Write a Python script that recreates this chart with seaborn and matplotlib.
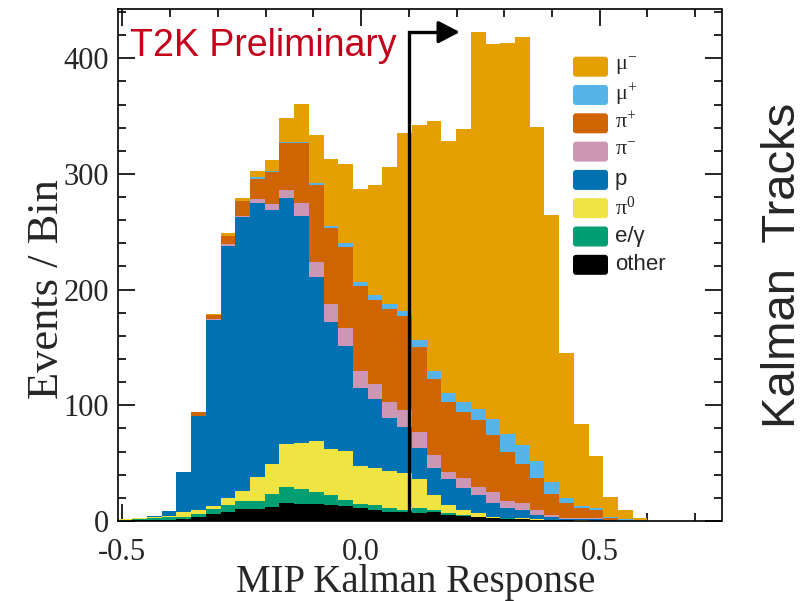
import numpy as np
import pandas as pd
import matplotlib
matplotlib.use("Agg")
import matplotlib.pyplot as plt
import seaborn as sns
from matplotlib.patches import FancyBboxPatch
from matplotlib.transforms import IdentityTransform
from matplotlib.ticker import MultipleLocator, FormatStrFormatter

# 36 equal-width bins of the MIP Kalman response
bin_edges = np.linspace(-0.51, 0.60, 37)
bin_centers = 0.5 * (bin_edges[:-1] + bin_edges[1:])

# Events per bin for each true particle type
mu_minus = [0, 0, 0, 0, 0, 0.3, 1.0, 2.3, 2.9, 5.8, 9.2, 20.7, 32.5, 41.7, 57.6, 68.6,
            80.1, 94.8, 118.6, 153.6, 185.6, 215.8, 217.8, 235.4, 326.1, 324.1, 337.6,
            352.3, 288.2, 230.5, 125.9, 70.8, 45.0, 17.3, 7.8, 1.7]
mu_plus = [0, 0, 0, 0, 0, 0, 0, 0, 0, 1.1, 0.9, 0.3, 0.9, 1.4, 2.3, 2.9,
           3.5, 4.3, 4.6, 4.3, 5.7, 6.9, 7.3, 9.2, 9.5, 13.6, 15.8,
           16.7, 14.7, 10.7, 4.3, 2.0, 1.5, 1.4, 1.3, 0.3]
pi_plus = [0, 0, 0, 0, 0, 3.0, 3.8, 7.2, 12.9, 17.5, 27.3, 40.5, 51.9, 66.2, 65.7, 70.6,
           73.5, 72.9, 79.9, 81.3, 74.0, 65.7, 60.5, 57.0, 57.7, 49.0, 41.8,
           33.7, 27.9, 18.1, 12.3, 8.7, 7.2, 1.6, 0.2, 0.3]
pi_minus = [0, 0, 0, 0, 0.6, 0.3, 0.5, 1.1, 1.1, 3.3, 5.8, 6.9, 11.5, 13.5, 15.0, 15.0,
            14.9, 12.7, 13.8, 14.4, 13.9, 11.5, 6.6, 8.6, 7.1, 9.5, 6.1,
            5.8, 4.3, 2.0, 1.0, 0.5, 0.8, 0.2, 0, 0]
proton = [0, 0, 1.4, 4.0, 34.5, 81.2, 160.7, 218.4, 236.6, 236.8, 219.5, 213.3, 196.5, 141.4, 110.1, 91.0,
          67.2, 59.3, 46.1, 39.8, 26.3, 23.0, 22.0, 18.8, 15.9, 12.1, 8.7,
          7.3, 3.7, 2.0, 1.2, 1.3, 1.2, 0.4, 0.2, 0]
pi_zero = [0.8, 1.0, 0.7, 1.4, 3.8, 3.5, 2.6, 5.8, 8.4, 21.0, 26.0, 37.2, 39.4, 44.6, 39.7, 42.3,
           32.8, 32.3, 32.2, 32.2, 25.5, 13.0, 7.0, 4.3, 2.8, 0.9, 0.6,
           0.5, 0.3, 0.2, 0.2, 0.1, 0, 0, 0, 0]
e_gamma = [0.9, 1.5, 1.5, 2.0, 1.7, 2.8, 4.4, 5.8, 7.5, 6.9, 11.2, 13.8, 13.0, 10.4, 8.7, 5.2,
           3.7, 4.3, 3.0, 2.0, 4.4, 2.0, 1.5, 0.9, 0.3, 0.3, 0.2,
           0.2, 0.2, 0.2, 0.1, 0.1, 0.1, 0, 0, 0]
other = [0.3, 0.5, 1.0, 1.2, 2.0, 3.2, 6.0, 8.0, 10.0, 10.4, 11.8, 15.3, 14.7, 14.4, 13.8, 13.0,
         11.0, 9.5, 8.0, 7.5, 6.6, 7.5, 5.5, 4.3, 3.5, 2.5, 2.0,
         1.5, 1.0, 0.8, 0.5, 0.3, 0.2, 0.1, 0, 0]

# Stack order: first entry on top, last entry at the bottom
species = ["mu-", "mu+", "pi+", "pi-", "p", "pi0", "e/gamma", "other"]
counts = [mu_minus, mu_plus, pi_plus, pi_minus, proton, pi_zero, e_gamma, other]
labels = [r"$\mathregular{μ^{-}}$", r"$\mathregular{μ^{+}}$", r"$\mathregular{π^{+}}$",
          r"$\mathregular{π^{-}}$", "p", r"$\mathregular{π^{0}}$", "e/γ", "other"]
label_fonts = ["Liberation Serif"] * 4 + ["Liberation Sans", "Liberation Serif",
                                          "Liberation Sans", "Liberation Sans"]
colors = ["#E69F00", "#56B4E9", "#CF6400", "#CC97B5", "#0072B2", "#F0E442",
          "#009E73", "#000000"]

df = pd.DataFrame({
    "response": np.tile(bin_centers, len(species)),
    "events": np.concatenate(counts),
    "particle": np.repeat(species, len(bin_centers)),
})

sns.set_style("ticks")
plt.rcParams["font.family"] = ["Liberation Sans", "DejaVu Sans"]
plt.rcParams["mathtext.fontset"] = "stix"
plt.rcParams["axes.unicode_minus"] = False

W, H = 810, 601
fig = plt.figure(figsize=(W / 100, H / 100), dpi=100)
ax = fig.add_axes([117.5 / W, 80 / H, (721.5 - 117.5) / W, (592.5 - 80) / H])

sns.histplot(data=df, x="response", weights="events", hue="particle",
             hue_order=species, palette=dict(zip(species, colors)),
             multiple="stack", bins=bin_edges.tolist(), element="step", alpha=1,
             linewidth=0, legend=False, ax=ax)

ax.set_xlim(-0.51, 0.755)
ax.set_ylim(0, 443)
ax.set_xlabel("")
ax.set_ylabel("")

ax.xaxis.set_major_locator(MultipleLocator(0.5))
ax.xaxis.set_minor_locator(MultipleLocator(0.1))
ax.xaxis.set_major_formatter(FormatStrFormatter("%.1f"))
ax.yaxis.set_major_locator(MultipleLocator(100))
ax.yaxis.set_minor_locator(MultipleLocator(20))
ax.tick_params(which="both", direction="in", top=True, right=True,
               width=1.2, color="black")
ax.tick_params(which="major", length=12)
ax.tick_params(which="minor", length=6)
ax.tick_params(axis="x", which="major", pad=12)
ax.tick_params(axis="y", which="major", pad=6)
for lab in ax.get_xticklabels() + ax.get_yticklabels():
    lab.set_fontfamily("Liberation Serif")
    lab.set_fontsize(22)
for sp in ax.spines.values():
    sp.set_linewidth(1.2)
    sp.set_color("black")

# Selection cut at 0.1 with arrow pointing to the accepted region
ax.plot([0.1, 0.1, 0.17], [0, 422.6, 422.6], color="black", lw=2.4,
        solid_joinstyle="miter", zorder=5)
ax.annotate("", xy=(0.207, 422.6), xytext=(0.16, 422.6),
            arrowprops=dict(arrowstyle="-|>,head_length=0.5,head_width=0.26",
                            mutation_scale=26, color="black", lw=2.4,
                            shrinkA=0, shrinkB=0), zorder=6)

fig.text(130 / W, 1 - 56 / H, "T2K Preliminary", color="#C4001A",
         fontsize=27, ha="left", va="baseline")

# Legend boxes with rounded corners
ident = IdentityTransform()
for i, (lab, col, fam) in enumerate(zip(labels, colors, label_fonts)):
    top = 56.7 + i * 28.3
    box = FancyBboxPatch((573, H - top - 20), 35, 20,
                         boxstyle="round,pad=0,rounding_size=3",
                         facecolor=col, edgecolor="none", transform=ident,
                         figure=fig)
    fig.patches.append(box)
    fig.text(615 / W, 1 - (top + 10) / H, lab, fontsize=16, ha="left",
             va="center", family=fam)

fig.text(416 / W, 1 - 592 / H, "MIP Kalman Response", fontsize=28,
         family="Liberation Serif", ha="center", va="baseline")
fig.text(47 / W, 1 - 289 / H, "Events / Bin", fontsize=32,
         family="Liberation Serif", ha="center", va="center", rotation=90)
fig.text(783 / W, 1 - 265 / H, "Kalman  Tracks", fontsize=34,
         ha="center", va="center", rotation=90)

fig.savefig("out.png", dpi=100)
